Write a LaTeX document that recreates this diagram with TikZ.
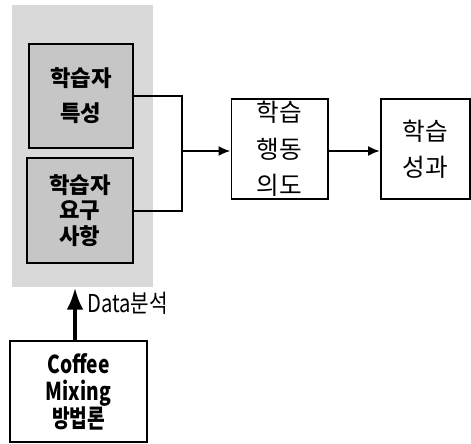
\documentclass[tikz,border=0pt]{standalone}
\usepackage{fontspec}
\setmainfont{Noto Sans CJK KR}
\newfontfamily\kor{Noto Sans CJK KR}
\newfontfamily\korn[FakeStretch=0.78]{Noto Sans CJK KR}
\newfontfamily\kord[FakeStretch=0.82]{Noto Sans CJK KR}
\usepackage{tikz}
\usetikzlibrary{arrows.meta,positioning,calc}
\tikzset{
  sangja/.style={draw,line width=1.7pt,align=center,inner sep=2pt,
    font=\kor\fontsize{21}{31}\selectfont},
  hoesaek/.style={draw,line width=2.4pt,fill=gray!45,align=center,inner sep=2pt,
    font=\kor\bfseries\fontsize{19}{22}\selectfont},
  hwasal/.style={line width=1.7pt,-{Latex[length=3.6mm,width=3mm]}},
  seon/.style={line width=1.7pt},
  gulge/.style={line width=2.6pt,-{Latex[length=6.5mm,width=5mm]}},
}

\begin{document}
\begin{tikzpicture}[x=0.03cm,y=-0.03cm]
  \useasboundingbox (0,0) rectangle (471,443);
  \fill[gray!30] (12,5) rectangle (153,287);
  \node[hoesaek,minimum width=3.12cm,minimum height=3.12cm,
    font=\kor\bfseries\fontsize{19}{30}\selectfont] (ls1) at (81,96) {학습자\\특성};
  \node[hoesaek,minimum width=3.18cm,minimum height=3.15cm] (ls2) at (80,210.5) {학습자\\요구\\사항};
  \node[sangja,minimum width=2.88cm,minimum height=3cm] (hd) at (279.5,149) {학습\\행동\\의도};
  \node[sangja,minimum width=2.67cm,minimum height=3cm] (sg) at (425.5,149) {학습\\성과};
  \node[sangja,minimum width=4.11cm,minimum height=3.03cm,
    font=\korn\bfseries\fontsize{21}{23}\selectfont] (cm) at (78.5,391.5) {Coffee\\Mixing\\방법론};
  \coordinate (jn) at (182,151);
  \coordinate (pb) at (75,288);
  \draw[seon] (ls1.east) -| (jn);
  \draw[seon] (ls2.east) -| (jn);
  \draw[hwasal] (jn) -- (jn -| hd.west);
  \draw[hwasal] (hd.east |- jn) -- (sg.west |- jn);
  \draw[gulge] (cm.north -| pb) -- (pb);
  \node[anchor=west,inner sep=1pt,font=\kord\fontsize{21}{22}\selectfont] (ds) at (86,303) {Data분석};
\end{tikzpicture}
\end{document}
